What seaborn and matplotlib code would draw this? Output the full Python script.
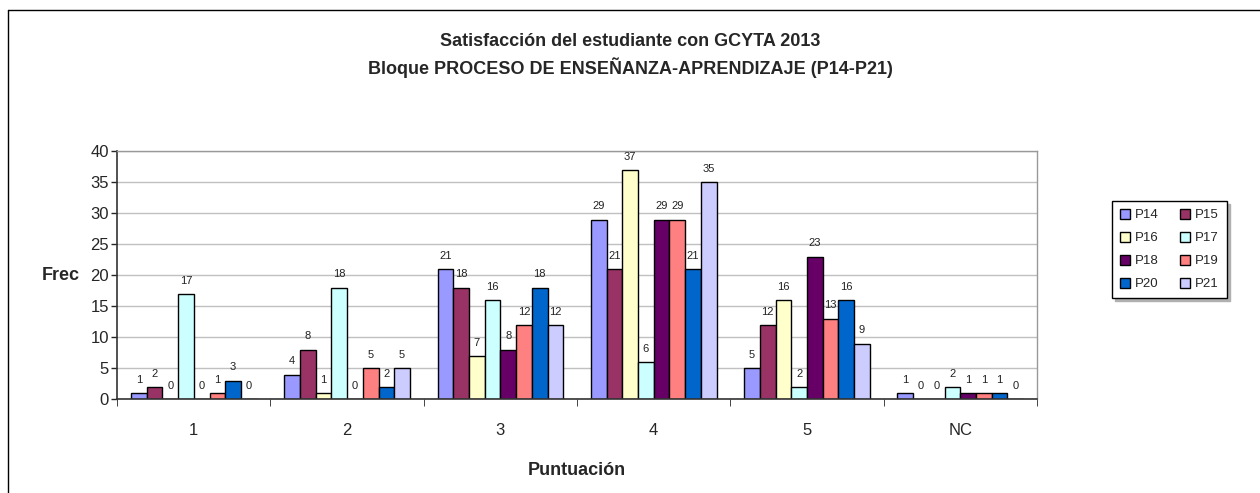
import matplotlib
matplotlib.use('Agg')
import matplotlib.pyplot as plt
import seaborn as sns
import pandas as pd
from matplotlib.patches import Patch
from matplotlib.lines import Line2D

# categories and series
categories = ['1', '2', '3', '4', '5', 'NC']
series_names = ['P14', 'P15', 'P16', 'P17', 'P18', 'P19', 'P20', 'P21']
p14 = [1, 4, 21, 29, 5, 1]
p15 = [2, 8, 18, 21, 12, 0]
p16 = [0, 1, 7, 37, 16, 0]
p17 = [17, 18, 16, 6, 2, 2]
p18 = [0, 0, 8, 29, 23, 1]
p19 = [1, 5, 12, 29, 13, 1]
p20 = [3, 2, 18, 21, 16, 1]
p21 = [0, 5, 12, 35, 9, 0]
colors = ['#9999FF', '#993366', '#FFFFCC', '#CCFFFF',
          '#660066', '#FF8080', '#0066CC', '#CCCCFF']

all_series = [p14, p15, p16, p17, p18, p19, p20, p21]
rows = []
for name, vals in zip(series_names, all_series):
    for cat, v in zip(categories, vals):
        rows.append({'Puntuación': cat, 'Frec': v, 'Pregunta': name})
df = pd.DataFrame(rows)

sns.set_style('white')
plt.rcParams['font.family'] = ['Liberation Sans', 'DejaVu Sans']

fig = plt.figure(figsize=(12.6, 4.93), dpi=100)
ax = fig.add_axes([0.093, 0.19, 0.73, 0.503])

sns.barplot(data=df, x='Puntuación', y='Frec', hue='Pregunta',
            order=categories, hue_order=series_names, palette=colors,
            width=0.82, edgecolor='black', linewidth=1, saturation=1,
            legend=False, ax=ax)

for c in ax.containers:
    ax.bar_label(c, padding=6, fontsize=8, color='#222222')

ax.set_ylim(0, 40)
ax.set_xlim(-0.5, 5.5)
ax.set_yticks(range(0, 41, 5))
ax.yaxis.grid(True, color='#c0c0c0', linewidth=1)
ax.set_axisbelow(True)
ax.tick_params(axis='y', labelsize=12, length=4, left=True, direction='out', width=1, pad=2)
ax.tick_params(axis='x', which='major', length=0, labelsize=12, pad=17)
ax.set_xticks([i - 0.5 for i in range(7)], minor=True)
ax.tick_params(axis='x', which='minor', length=5, bottom=True, direction='out')

for s in ['left', 'bottom']:
    ax.spines[s].set_color('#333333')
    ax.spines[s].set_linewidth(1.2)
for s in ['top', 'right']:
    ax.spines[s].set_color('#999999')
    ax.spines[s].set_linewidth(1)

ax.set_xlabel('Puntuación', fontsize=13, fontweight='bold', va='center')
ax.xaxis.set_label_coords(0.5, -0.285)
ax.set_ylabel('Frec', fontsize=13, fontweight='bold', rotation=0, va='center', ha='center')
ax.yaxis.set_label_coords(-0.061, 0.5)

fig.text(0.50, 0.915, 'Satisfacción del estudiante con GCYTA 2013',
         ha='center', va='center', fontsize=13, fontweight='bold')
fig.text(0.50, 0.862, 'Bloque PROCESO DE ENSEÑANZA-APRENDIZAJE (P14-P21)',
         ha='center', va='center', fontsize=13, fontweight='bold')

# legend, filled row by row like the reference
order = [0, 2, 4, 6, 1, 3, 5, 7]
handles = [Patch(facecolor=colors[i], edgecolor='black', linewidth=1) for i in order]
labels = [series_names[i] for i in order]
leg = fig.legend(handles, labels, ncol=2, loc='upper left',
                 bbox_to_anchor=(0.8825, 0.5923), fontsize=9.5,
                 frameon=True, fancybox=False,
                 shadow={'color': '#b0b0b0', 'alpha': 1},
                 handlelength=0.75, handleheight=0.75, handletextpad=0.4,
                 columnspacing=1.6, labelspacing=0.8, borderpad=0.6,
                 borderaxespad=0)
leg.get_frame().set_edgecolor('black')
leg.get_frame().set_linewidth(1)

# outer chart border
fig.add_artist(Line2D([0.0065, 0.0065], [0, 0.98], color='black', linewidth=1,
                      transform=fig.transFigure))
fig.add_artist(Line2D([0.0065, 1.0], [0.98, 0.98], color='black', linewidth=1,
                      transform=fig.transFigure))

fig.savefig('out.png', dpi=100)
